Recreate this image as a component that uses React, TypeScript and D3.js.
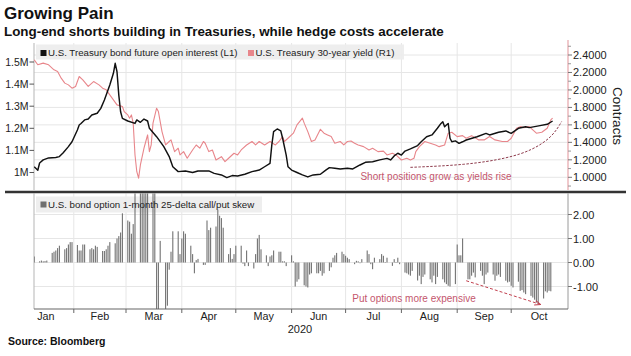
import React from 'react';
import * as d3 from 'd3';

const W = 631;
const H = 356;
const FONT = '"Liberation Sans", Arial, Helvetica, sans-serif';

// ---------- DATA ----------
const monthLabels = ['Jan', 'Feb', 'Mar', 'Apr', 'May', 'Jun', 'Jul', 'Aug', 'Sep', 'Oct'];
const yearLabel = '2020';

const leftTicks = [1.0, 1.1, 1.2, 1.3, 1.4, 1.5];
const leftTickLabels = ['1M', '1.1M', '1.2M', '1.3M', '1.4M', '1.5M'];
const rightTicks = [1.0, 1.2, 1.4, 1.6, 1.8, 2.0, 2.2, 2.4];
const rightMinorTicks = [0.9, 1.1, 1.3, 1.5, 1.7, 1.9, 2.1, 2.3, 2.5];
const bottomTicks = [2, 1, 0, -1];
const bottomTickLabels = ['2.00', '1.00', '0.00', '-1.00'];

// U.S. Treasury bond future open interest (millions of contracts)
const oiDates = [
  '2020-01-10', '2020-01-12', '2020-01-13', '2020-01-15', '2020-01-18', '2020-01-22', '2020-01-24', '2020-01-26', '2020-01-29', '2020-01-31',
  '2020-02-03', '2020-02-04', '2020-02-05', '2020-02-07', '2020-02-09', '2020-02-11', '2020-02-14', '2020-02-16', '2020-02-18', '2020-02-21',
  '2020-02-23', '2020-02-24', '2020-02-25', '2020-02-26', '2020-02-27', '2020-02-28', '2020-03-02', '2020-03-06', '2020-03-07', '2020-03-09',
  '2020-03-11', '2020-03-13', '2020-03-14', '2020-03-18', '2020-03-22', '2020-03-25', '2020-03-27', '2020-03-30', '2020-04-03', '2020-04-07',
  '2020-04-10', '2020-04-16', '2020-04-19', '2020-04-23', '2020-04-26', '2020-04-29', '2020-05-02', '2020-05-06', '2020-05-10', '2020-05-14',
  '2020-05-17', '2020-05-20', '2020-05-21', '2020-05-22', '2020-05-24', '2020-05-26', '2020-05-27', '2020-05-29', '2020-05-30', '2020-06-01',
  '2020-06-04', '2020-06-07', '2020-06-10', '2020-06-13', '2020-06-17', '2020-06-20', '2020-06-22', '2020-06-25', '2020-06-28', '2020-07-02',
  '2020-07-05', '2020-07-09', '2020-07-12', '2020-07-16', '2020-07-20', '2020-07-24', '2020-07-26', '2020-07-28', '2020-07-30', '2020-08-01',
  '2020-08-03', '2020-08-06', '2020-08-10', '2020-08-12', '2020-08-15', '2020-08-18', '2020-08-21', '2020-08-23', '2020-08-24', '2020-08-25',
  '2020-08-26', '2020-08-27', '2020-08-28', '2020-08-29', '2020-08-31', '2020-09-02', '2020-09-04', '2020-09-06', '2020-09-12', '2020-09-17',
  '2020-09-19', '2020-09-24', '2020-09-28', '2020-10-01', '2020-10-05', '2020-10-09', '2020-10-11', '2020-10-17', '2020-10-21', '2020-10-24',
];
const oiValues = [
  1.026, 1.01, 1.043, 1.057, 1.066, 1.068, 1.072, 1.088, 1.117, 1.139,
  1.192, 1.215, 1.222, 1.238, 1.242, 1.26, 1.268, 1.29, 1.328, 1.396,
  1.449, 1.494, 1.456, 1.35, 1.275, 1.245, 1.233, 1.222, 1.238, 1.227,
  1.242, 1.233, 1.2, 1.162, 1.117, 1.072, 1.026, 1.004, 1.007, 1.0,
  1.007, 1.007, 0.996, 0.989, 0.977, 0.986, 0.984, 0.992, 1.004, 1.011,
  1.026, 1.041, 1.124, 1.185, 1.197, 1.188, 1.155, 1.079, 1.026, 1.011,
  1.0, 0.989, 0.98, 0.989, 0.992, 1.011, 1.022, 1.019, 1.016, 1.019,
  1.016, 1.034, 1.046, 1.049, 1.057, 1.064, 1.057, 1.075, 1.087, 1.079,
  1.097, 1.107, 1.122, 1.139, 1.162, 1.17, 1.2, 1.222, 1.23, 1.207,
  1.215, 1.222, 1.155, 1.139, 1.143, 1.132, 1.139, 1.147, 1.162, 1.177,
  1.17, 1.182, 1.188, 1.177, 1.2, 1.207, 1.203, 1.212, 1.218, 1.233,
];

// U.S. Treasury 30-year yield (%)
const yieldDates = [
  '2020-01-10', '2020-01-12', '2020-01-15', '2020-01-18', '2020-01-21', '2020-01-23', '2020-01-25', '2020-01-27', '2020-01-29', '2020-01-31',
  '2020-02-02', '2020-02-04', '2020-02-06', '2020-02-09', '2020-02-12', '2020-02-15', '2020-02-17', '2020-02-19', '2020-02-21', '2020-02-23',
  '2020-02-25', '2020-02-28', '2020-02-29', '2020-03-02', '2020-03-03', '2020-03-04', '2020-03-05', '2020-03-06', '2020-03-07', '2020-03-08',
  '2020-03-09', '2020-03-11', '2020-03-12', '2020-03-13', '2020-03-14', '2020-03-15', '2020-03-16', '2020-03-18', '2020-03-19', '2020-03-21',
  '2020-03-23', '2020-03-25', '2020-03-26', '2020-03-28', '2020-03-30', '2020-03-31', '2020-04-02', '2020-04-04', '2020-04-07', '2020-04-09',
  '2020-04-11', '2020-04-13', '2020-04-14', '2020-04-16', '2020-04-18', '2020-04-20', '2020-04-23', '2020-04-25', '2020-04-27', '2020-04-30',
  '2020-05-02', '2020-05-04', '2020-05-07', '2020-05-10', '2020-05-12', '2020-05-14', '2020-05-17', '2020-05-20', '2020-05-23', '2020-05-25',
  '2020-05-27', '2020-05-28', '2020-05-30', '2020-06-02', '2020-06-04', '2020-06-07', '2020-06-08', '2020-06-10', '2020-06-12', '2020-06-14',
  '2020-06-17', '2020-06-19', '2020-06-21', '2020-06-23', '2020-06-25', '2020-06-28', '2020-06-30', '2020-07-02', '2020-07-04', '2020-07-06',
  '2020-07-08', '2020-07-11', '2020-07-14', '2020-07-16', '2020-07-19', '2020-07-22', '2020-07-24', '2020-07-27', '2020-07-29', '2020-08-01',
  '2020-08-04', '2020-08-06', '2020-08-08', '2020-08-09', '2020-08-11', '2020-08-14', '2020-08-17', '2020-08-20', '2020-08-22', '2020-08-25',
  '2020-08-27', '2020-08-29', '2020-09-01', '2020-09-04', '2020-09-06', '2020-09-09', '2020-09-13', '2020-09-16', '2020-09-19', '2020-09-22',
  '2020-09-26', '2020-09-29', '2020-10-01', '2020-10-04', '2020-10-06', '2020-10-08', '2020-10-11', '2020-10-13', '2020-10-15', '2020-10-18',
  '2020-10-21', '2020-10-23', '2020-10-24',
];
const yieldValues = [
  2.345, 2.288, 2.307, 2.288, 2.23, 2.211, 2.135, 2.078, 2.058, 2.02,
  2.04, 2.154, 2.116, 2.04, 2.096, 2.058, 2.02, 2.001, 1.944, 1.886,
  1.829, 1.81, 1.752, 1.714, 1.677, 1.714, 1.62, 1.256, 1.064, 0.99,
  1.141, 1.333, 1.41, 1.485, 1.294, 1.37, 1.62, 1.791, 1.752, 1.523,
  1.37, 1.41, 1.428, 1.294, 1.333, 1.256, 1.294, 1.218, 1.313, 1.37,
  1.333, 1.41, 1.39, 1.294, 1.313, 1.198, 1.236, 1.179, 1.218, 1.275,
  1.256, 1.313, 1.37, 1.41, 1.37, 1.41, 1.37, 1.41, 1.37, 1.41,
  1.466, 1.41, 1.447, 1.505, 1.6, 1.677, 1.62, 1.523, 1.41, 1.428,
  1.55, 1.505, 1.485, 1.466, 1.39, 1.41, 1.37, 1.41, 1.416, 1.39,
  1.37, 1.351, 1.313, 1.333, 1.294, 1.3, 1.256, 1.275, 1.256, 1.198,
  1.218, 1.198, 1.218, 1.294, 1.351, 1.41, 1.39, 1.37, 1.351, 1.37,
  1.505, 1.516, 1.466, 1.477, 1.447, 1.477, 1.428, 1.428, 1.466, 1.428,
  1.41, 1.41, 1.447, 1.562, 1.58, 1.569, 1.58, 1.542, 1.505, 1.516,
  1.562, 1.657, 1.677,
];

// U.S. bond option 1-month 25-delta call/put skew, one value per business day (Jan 10 - Oct 23)
const skewJan = [0.25, 0.05, 0.08, 0.05, 0.06, 0.08, 0.4, 0.45, 0.5, 0.6, 0.7, 0.55, 0.6, 0.75, 0.85, 0.85];
const skewFeb = [0.73, 0.5, 0.5, 0.75, 0.75, 0.55, 0.6, 0.55, 0.7, 0.65, 0.48, 0.48, 0.55, 0.7, 0.85, 0.8, 1.0, 1.1, 1.25, 2.05];
const skewMar = [1.75, 1.7, 1.2, 1.6, 3.2, 3.4, 3.3, 3.6, 3.2, 3.5, 3.1, 3.0, -2.5, -2.4, 0.9, -2.6, -1.8, -0.3, 0.45, 1.3, 1.3, 0.35];
const skewApr = [1.0, 1.3, 1.2, 0.7, 0.35, -0.45, 0.1, 0.15, -0.1, -0.1, 1.75, 1.35, 1.45, 1.5, 2.2, 1.95, 1.85, 1.45, 0.35, 0.6, 0.15, 0.35];
const skewMay = [0.7, 0.7, -0.05, -0.15, 0.5, -0.15, -0.25, 0.35, 1.0, 1.15, 0.55, 0.3, -0.15, 0.25, 0.3, 0.5, 0.45, 0.45, 0.05, 0.05, -0.15];
const skewJun = [0.3, 0.05, -1.0, -0.8, -0.7, -0.95, -1.0, -1.04, -0.5, -0.45, -0.45, -0.45, -0.35, -0.55, -0.45, -0.35, -0.2, 0.2, 0.3, 0.4, 0.45, 0.35];
const skewJul = [0.28, 0.2, 0.14, -0.07, 0.07, 0.05, -0.03, 0.14, 0.5, 0.35, -0.07, -0.28, 0.2, 0.14, 0.35, 0.28, 0.02, 0.2, -0.14, 0.14, 0.02, 0.2, -0.07];
const skewAug = [-0.42, -0.45, -0.5, -0.55, -0.35, -0.75, -0.55, -0.9, -0.6, -0.5, -0.7, -0.83, -0.55, -0.9, -0.6, -0.7, -0.83, -0.9, -0.97, -1.0, -0.9];
const skewSep = [0.75, 0.3, 0.3, 1.0, -0.7, -0.7, -0.55, -0.42, -0.62, -0.35, -0.55, -0.9, -0.5, -0.42, -0.5, -0.76, -0.55, -0.5, -0.6, -0.76, -0.83, -0.8];
const skewOct = [-0.97, -1.04, -0.8, -1.18, -1.15, -1.25, -1.32, -1.39, -1.46, -1.55, -1.67, -1.75, -1.5, -1.2, -1.25, -1.18, -1.2];

// annotation paths in data coordinates
const yieldArrowDates = ['2020-08-06', '2020-09-06', '2020-09-29', '2020-10-13', '2020-10-24', '2020-10-29'];
const yieldArrowValues = [1.114, 1.141, 1.218, 1.313, 1.466, 1.638];
const skewArrowDates = ['2020-09-06', '2020-10-17'];
const skewArrowValues = [-0.76, -1.74];

// ---------- LAYOUT ----------
const PL = 34;
const PR = 568;
const TOP_Y0 = 43;
const TOP_Y1 = 190;
const BOT_Y0 = 193.5;
const BOT_Y1 = 309;

const parse = d3.timeParse('%Y-%m-%d');

export default function App() {
  const x = d3.scaleTime().domain([new Date(2020, 0, 1), new Date(2020, 10, 1)]).range([18, 567]);
  const yL = d3.scaleLinear().domain([1.0, 1.5]).range([172.5, 62]);
  const yR = d3.scaleLinear().domain([1.0, 2.4]).range([177.3, 55]);
  const yB = d3.scaleLinear().domain([0, 2]).range([262.5, 214.5]);

  const monthStarts = d3.timeMonth.range(new Date(2020, 0, 1), new Date(2020, 10, 2));
  const innerMonthStarts = monthStarts.filter((d) => x(d) > PL + 1 && x(d) < PR - 1);

  const oi = oiDates.map((d, i) => ({ d: parse(d) as Date, v: oiValues[i] }));
  const yl = yieldDates.map((d, i) => ({ d: parse(d) as Date, v: yieldValues[i] }));

  const skewValues = [
    ...skewJan, ...skewFeb, ...skewMar, ...skewApr, ...skewMay,
    ...skewJun, ...skewJul, ...skewAug, ...skewSep, ...skewOct,
  ];
  const bizDays = d3.timeDay
    .range(new Date(2020, 0, 10), new Date(2020, 9, 24))
    .filter((d) => d.getDay() !== 0 && d.getDay() !== 6);
  const bars = bizDays.map((d, i) => ({ d, v: skewValues[i] ?? 0 }));

  const oiLine = d3.line<{ d: Date; v: number }>().x((p) => x(p.d)).y((p) => yL(p.v));
  const yieldLine = d3.line<{ d: Date; v: number }>().x((p) => x(p.d)).y((p) => yR(p.v));

  const curvePts = yieldArrowDates.map((d, i) => [x(parse(d) as Date), yR(yieldArrowValues[i])] as [number, number]);
  const curvePath = d3.line().curve(d3.curveBasis)(curvePts) || '';
  const a0 = [x(parse(skewArrowDates[0]) as Date), yB(skewArrowValues[0])];
  const a1 = [x(parse(skewArrowDates[1]) as Date), yB(skewArrowValues[1])];

  const gridColor = '#e6e6e6';

  return (
    <svg
      width={W}
      height={H}
      viewBox={`0 0 ${W} ${H}`}
      style={{ position: 'absolute', left: 0, top: 0, background: '#fff', fontFamily: FONT }}
    >
      <defs>
        <clipPath id="clipTop">
          <rect x={PL} y={TOP_Y0} width={PR - PL} height={TOP_Y1 - TOP_Y0} />
        </clipPath>
        <clipPath id="clipBot">
          <rect x={PL} y={BOT_Y0} width={PR - PL} height={BOT_Y1 - BOT_Y0} />
        </clipPath>
        <marker id="arrowRed" viewBox="0 0 10 10" refX="9" refY="5" markerWidth="6" markerHeight="6" orient="auto">
          <path d="M0,1 L10,5 L0,9" fill="none" stroke="#c2414f" strokeWidth="1.6" />
        </marker>
      </defs>
      <rect x={0} y={0} width={W} height={H} fill="#fff" />

      {/* Titles */}
      <text x={4} y={19} fontSize={17} fontWeight="bold" fill="#111">Growing Pain</text>
      <text x={4} y={35.5} fontSize={13.4} fontWeight="bold" fill="#111">
        Long-end shorts building in Treasuries, while hedge costs accelerate
      </text>

      {/* ---------- TOP PANEL ---------- */}
      {rightTicks.map((t) => (
        <line key={'gr' + t} x1={PL} x2={PR} y1={yR(t)} y2={yR(t)} stroke={gridColor} strokeWidth={1} />
      ))}
      {innerMonthStarts.map((d) => (
        <line key={'gvt' + d.getTime()} x1={x(d)} x2={x(d)} y1={TOP_Y0} y2={TOP_Y1} stroke={gridColor} strokeWidth={1} />
      ))}
      <line x1={PL} x2={PL} y1={TOP_Y0} y2={TOP_Y1} stroke="#b5b5b5" strokeWidth={1} />
      <line x1={PR} x2={PR} y1={40} y2={TOP_Y1} stroke="#e6a5aa" strokeWidth={1.2} />

      {leftTicks.map((t, i) => (
        <g key={'lt' + t}>
          <line x1={29.5} x2={PL} y1={yL(t)} y2={yL(t)} stroke="#555" strokeWidth={1} />
          <text x={28.5} y={yL(t) + 3.8} fontSize={10.5} textAnchor="end" fill="#222">
            {leftTickLabels[i]}
          </text>
        </g>
      ))}
      {rightMinorTicks.map((t) => (
        <line key={'rm' + t} x1={PR} x2={PR + 3} y1={yR(t)} y2={yR(t)} stroke="#999" strokeWidth={1} />
      ))}
      {rightTicks.map((t) => (
        <g key={'rt' + t}>
          <line x1={PR} x2={PR + 4} y1={yR(t)} y2={yR(t)} stroke="#777" strokeWidth={1} />
          <text x={573} y={yR(t) + 4} fontSize={11} fill="#222">{t.toFixed(4)}</text>
        </g>
      ))}
      <text
        transform={`translate(612.5,116) rotate(90)`}
        fontSize={13.5}
        textAnchor="middle"
        fill="#222"
      >
        Contracts
      </text>

      <g clipPath="url(#clipTop)">
        <path d={yieldLine(yl) || ''} fill="none" stroke="#e8868b" strokeWidth={1.1} strokeLinejoin="round" />
        <path d={oiLine(oi) || ''} fill="none" stroke="#111" strokeWidth={1.45} strokeLinejoin="round" />
        <path d={curvePath} fill="none" stroke="#8e3b4c" strokeWidth={1} strokeDasharray="2.5,1.5" />
      </g>
      <text x={436} y={180} fontSize={10} textAnchor="middle" fill="#c4566d">
        Short positions grow as yields rise
      </text>

      {/* top legend */}
      <rect x={36} y={44.5} width={368} height={15} fill="#ededed" opacity={0.92} />
      <rect x={40.5} y={50} width={6} height={6} fill="#111" />
      <text x={48} y={56} fontSize={9.7} fill="#222">U.S. Treasury bond future open interest (L1)</text>
      <rect x={248} y={50} width={6} height={6} fill="#e8868b" />
      <text x={255.5} y={56} fontSize={9.7} fill="#222">U.S. Treasury 30-year yield (R1)</text>

      {/* ---------- BOTTOM PANEL ---------- */}
      {bottomTicks.map((t) => (
        <line key={'gb' + t} x1={PL} x2={PR} y1={yB(t)} y2={yB(t)} stroke={gridColor} strokeWidth={1} />
      ))}
      {innerMonthStarts.map((d) => (
        <line key={'gvb' + d.getTime()} x1={x(d)} x2={x(d)} y1={BOT_Y0} y2={BOT_Y1} stroke={gridColor} strokeWidth={1} />
      ))}
      <line x1={PL} x2={PL} y1={BOT_Y0} y2={BOT_Y1} stroke="#b5b5b5" strokeWidth={1} />
      <line x1={PR} x2={PR} y1={BOT_Y0} y2={BOT_Y1} stroke="#9a9a9a" strokeWidth={1} />

      {/* bottom legend background (bars show through it) */}
      <rect x={36} y={196.5} width={226} height={16} fill="#ededed" opacity={0.92} />

      <g clipPath="url(#clipBot)">
        {bars.map((b, i) => {
          const y0 = yB(Math.max(b.v, 0));
          const y1 = yB(Math.min(b.v, 0));
          return (
            <rect key={'b' + i} x={x(b.d) - 0.55} y={y0} width={1.1} height={Math.max(0.6, y1 - y0)} fill="#737373" />
          );
        })}
      </g>

      {bottomTicks.map((t, i) => (
        <g key={'bt' + t}>
          <line x1={PR} x2={PR + 4} y1={yB(t)} y2={yB(t)} stroke="#777" strokeWidth={1} />
          <text x={573} y={yB(t) + 4} fontSize={11} fill="#222">{bottomTickLabels[i]}</text>
        </g>
      ))}

      {/* bottom legend */}
      <rect x={40.5} y={201.5} width={6} height={6} fill="#6f6f6f" />
      <text x={48} y={208} fontSize={9.7} fill="#222">U.S. bond option 1-month 25-delta call/put skew</text>

      <line
        x1={a0[0]} y1={a0[1]} x2={a1[0]} y2={a1[1]}
        stroke="#c2414f" strokeWidth={1} strokeDasharray="3,2" markerEnd="url(#arrowRed)"
      />
      <text x={414} y={302} fontSize={10} textAnchor="middle" fill="#c4566d">
        Put options more expensive
      </text>

      {/* x axis */}
      <line x1={PL} x2={PR} y1={BOT_Y1} y2={BOT_Y1} stroke="#666" strokeWidth={1.2} />
      {innerMonthStarts.map((d) => (
        <line key={'xt' + d.getTime()} x1={x(d)} x2={x(d)} y1={BOT_Y1} y2={BOT_Y1 + 4} stroke="#666" strokeWidth={1} />
      ))}
      {monthLabels.map((m, i) => {
        const cx = (x(monthStarts[i]) + x(monthStarts[i + 1])) / 2;
        return (
          <text key={'ml' + m} x={cx} y={320} fontSize={10.8} textAnchor="middle" fill="#222">{m}</text>
        );
      })}
      <text x={300} y={333} fontSize={11} textAnchor="middle" fill="#222">{yearLabel}</text>

      {/* divider */}
      <line x1={5} x2={626} y1={192} y2={192} stroke="#333" strokeWidth={2.6} />

      <text x={8} y={345} fontSize={10.5} fontWeight="bold" fill="#111">Source:  Bloomberg</text>
    </svg>
  );
}
